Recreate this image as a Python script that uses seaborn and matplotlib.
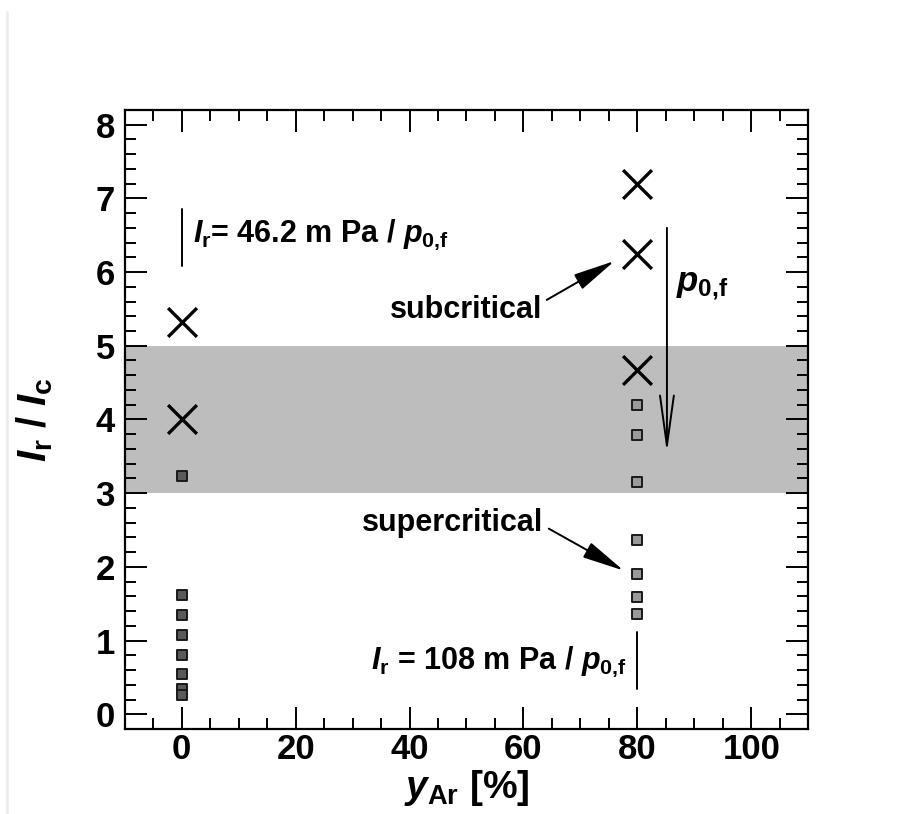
import matplotlib
matplotlib.use("Agg")
import matplotlib.pyplot as plt
from matplotlib.lines import Line2D
from matplotlib.ticker import MultipleLocator
import numpy as np
import pandas as pd
import seaborn as sns

# Measured points: argon fraction and normalized intensity
sub_x0 = [0, 0]
sub_y0 = [5.32, 4.0]
sup_x0 = [0, 0, 0, 0, 0, 0, 0, 0]
sup_y0 = [3.23, 1.62, 1.35, 1.07, 0.80, 0.54, 0.34, 0.26]

sub_x80 = [80, 80, 80]
sub_y80 = [7.20, 6.25, 4.67]
sup_x80 = [80, 80, 80, 80, 80, 80, 80]
sup_y80 = [4.19, 3.79, 3.15, 2.37, 1.90, 1.59, 1.36]

band_low, band_high = 3.0, 5.0

sns.set_theme(style="ticks")
plt.rcParams["font.family"] = ["Liberation Sans", "DejaVu Sans"]
plt.rcParams["font.weight"] = "bold"
plt.rcParams["text.color"] = "black"
plt.rcParams["axes.labelcolor"] = "black"
plt.rcParams["xtick.color"] = "black"
plt.rcParams["ytick.color"] = "black"
plt.rcParams["mathtext.fontset"] = "custom"
plt.rcParams["mathtext.rm"] = "Liberation Sans:bold"
plt.rcParams["mathtext.bf"] = "Liberation Sans:bold"
plt.rcParams["mathtext.it"] = "Liberation Sans:bold:italic"
plt.rcParams["mathtext.default"] = "it"

sub = pd.DataFrame({"x": sub_x0 + sub_x80, "y": sub_y0 + sub_y80})
sup0 = pd.DataFrame({"x": sup_x0, "y": sup_y0})
sup80 = pd.DataFrame({"x": sup_x80, "y": sup_y80})

fig = plt.figure(figsize=(9.04, 8.14), dpi=100)
ax = fig.add_axes([0.138, 0.1044, 0.756, 0.7606])

ax.axhspan(band_low, band_high, color="#bdbdbd", lw=0, zorder=0)

sns.scatterplot(data=sub, x="x", y="y", marker="x", s=430, color="black",
                linewidth=2.4, ax=ax, zorder=3)
sns.scatterplot(data=sup0, x="x", y="y", marker="s", s=60, color="#5a5a5a",
                edgecolor="#1a1a1a", linewidth=1.4, ax=ax, zorder=3)
sns.scatterplot(data=sup80, x="x", y="y", marker="s", s=60, color="#9a9a9a",
                edgecolor="#1a1a1a", linewidth=1.4, ax=ax, zorder=3)

ax.set_xlim(-10, 110)
ax.set_ylim(-0.2, 8.2)
ax.xaxis.set_major_locator(MultipleLocator(20))
ax.xaxis.set_minor_locator(MultipleLocator(5))
ax.yaxis.set_major_locator(MultipleLocator(1))
ax.yaxis.set_minor_locator(MultipleLocator(0.2))
ax.tick_params(which="both", direction="in", top=True, right=True,
               labelsize=25, width=1.4, color="black", labelcolor="black")
ax.tick_params(axis="x", which="both", pad=3)
ax.tick_params(axis="y", which="both", pad=7)
ax.tick_params(which="major", length=16)
ax.tick_params(which="minor", length=8)
for lab in ax.get_xticklabels() + ax.get_yticklabels():
    lab.set_fontweight("bold")
for sp in ax.spines.values():
    sp.set_linewidth(1.6)
    sp.set_color("black")

ax.set_xlabel(r"$y_\mathrm{Ar}$ [%]", fontsize=28, fontweight="bold", labelpad=1)
ax.set_ylabel(r"$I_\mathrm{r}$ / $I_\mathrm{c}$", fontsize=29, fontweight="bold", labelpad=29)

# Intensity annotations with marker lines
ax.plot([0, 0], [6.08, 6.85], color="black", lw=1.4)
ax.text(2.0, 6.5, r"$I_\mathrm{r}$= 46.2 m Pa / $p_\mathrm{0{,}f}$", fontsize=22,
        fontweight="bold", ha="left", va="center")
ax.plot([80, 80], [0.34, 1.12], color="black", lw=1.4)
ax.text(78.2, 0.72, r"$I_\mathrm{r}$ = 108 m Pa / $p_\mathrm{0{,}f}$", fontsize=22,
        fontweight="bold", ha="right", va="center")

# Regime labels with arrows
arrow_solid = dict(arrowstyle="-|>,head_length=1.3,head_width=0.26",
                   color="black", lw=1.4, shrinkA=0, shrinkB=0,
                   mutation_scale=20)
ax.annotate("subcritical", xy=(76.0, 6.15), xytext=(63.3, 5.48),
            fontsize=22, fontweight="bold", ha="right", va="center",
            arrowprops=dict(arrow_solid, relpos=(1.03, 0.85)))
ax.annotate("supercritical", xy=(77.6, 1.95), xytext=(63.5, 2.6),
            fontsize=22, fontweight="bold", ha="right", va="center",
            arrowprops=dict(arrow_solid, relpos=(1.03, 0.3)))

# Decreasing pressure direction
ax.annotate("", xy=(85.2, 3.55), xytext=(85.2, 6.6),
            arrowprops=dict(arrowstyle="->,head_length=1.8,head_width=0.25",
                            color="black", lw=1.4, shrinkA=0, shrinkB=0,
                            mutation_scale=20))
ax.text(86.8, 5.82, r"$p_\mathrm{0{,}f}$", fontsize=25, ha="left", va="center")

fig.add_artist(Line2D([0.008, 0.008], [0.0, 0.985], transform=fig.transFigure,
                      color="#ececec", lw=2))

fig.savefig("out.png", dpi=100, facecolor="white")
